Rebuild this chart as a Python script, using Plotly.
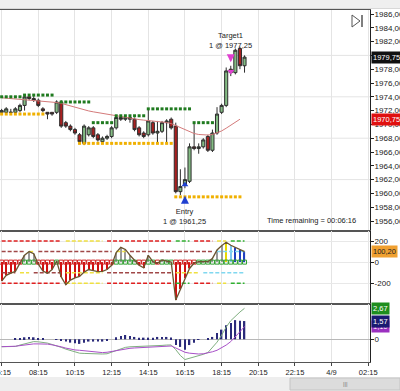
import pandas as pd
import plotly.graph_objects as go
from plotly.subplots import make_subplots

# ---------------- data ----------------
BAR_TIMES = pd.date_range("2014-04-08 06:15", periods=54, freq="15min")

OPEN = [1971.75, 1971.75, 1971.75, 1971.75, 1972.0, 1972.75, 1974.0, 1973.75, 1973.5, 1972.25,
        1971.75, 1971.75, 1971.75, 1973.25, 1970.25, 1969.75, 1969.25, 1968.5, 1967.25, 1968.5,
        1969.5, 1968.5, 1967.5, 1968.0, 1968.25, 1969.5, 1971.0, 1970.75, 1971.0, 1970.75,
        1969.5, 1968.75, 1968.5, 1970.25, 1968.75, 1969.0, 1970.25, 1970.75, 1969.75, 1960.25,
        1961.25, 1961.75, 1966.75, 1966.5, 1966.75, 1968.25, 1966.25, 1968.75, 1971.75, 1972.75,
        1978.0, 1977.5, 1981.0, 1978.5]
HIGH = [1972.25, 1972.5, 1972.25, 1972.5, 1973.0, 1974.25, 1974.25, 1974.25, 1973.75, 1972.5,
        1971.75, 1971.75, 1973.5, 1973.5, 1970.5, 1970.0, 1969.5, 1968.75, 1970.0, 1969.75,
        1969.75, 1968.75, 1968.25, 1968.5, 1969.75, 1971.25, 1971.25, 1971.25, 1971.25, 1971.0,
        1969.75, 1969.0, 1972.25, 1970.5, 1970.5, 1970.5, 1970.75, 1971.0, 1970.25, 1963.5,
        1963.75, 1967.25, 1970.25, 1967.25, 1968.0, 1968.5, 1969.25, 1972.5, 1973.0, 1978.25,
        1978.5, 1981.0, 1981.25, 1980.0]
LOW = [1971.5, 1971.5, 1971.5, 1971.5, 1971.75, 1972.0, 1973.5, 1973.25, 1972.5, 1971.75,
       1970.75, 1971.25, 1971.5, 1969.5, 1969.5, 1969.0, 1968.5, 1967.25, 1967.0, 1968.25,
       1968.0, 1967.5, 1967.25, 1967.75, 1968.0, 1969.25, 1970.5, 1970.5, 1970.25, 1969.0,
       1968.25, 1968.0, 1968.25, 1968.5, 1967.25, 1968.75, 1967.25, 1969.25, 1960.0, 1959.75,
       1960.75, 1961.5, 1966.25, 1965.75, 1966.5, 1966.0, 1966.0, 1968.5, 1971.5, 1972.5,
       1977.0, 1977.25, 1978.0, 1977.5]
CLOSE = [1972.0, 1972.25, 1971.75, 1972.25, 1972.75, 1974.0, 1973.75, 1973.5, 1972.75, 1972.0,
         1971.5, 1971.5, 1973.25, 1969.75, 1969.75, 1969.25, 1968.75, 1967.5, 1969.75, 1969.5,
         1968.25, 1967.75, 1968.0, 1968.25, 1969.5, 1971.0, 1970.75, 1971.0, 1970.75, 1969.25,
         1968.5, 1968.25, 1970.5, 1968.75, 1969.0, 1970.25, 1970.5, 1969.5, 1960.25, 1961.0,
         1962.0, 1966.75, 1966.5, 1966.75, 1967.75, 1966.25, 1968.75, 1971.5, 1972.75, 1977.75,
         1977.5, 1980.75, 1978.5, 1979.75]

MOVING_AVG = [1973.86, 1973.8, 1973.75, 1973.7, 1973.65, 1973.6, 1973.55, 1973.5, 1973.45, 1973.4,
              1973.3, 1973.25, 1973.17, 1973.05, 1972.85, 1972.67, 1972.5, 1972.3, 1972.1, 1971.95,
              1971.82, 1971.7, 1971.58, 1971.47, 1971.36, 1971.25, 1971.12, 1971.0, 1970.9, 1970.8,
              1970.7, 1970.62, 1970.56, 1970.5, 1970.43, 1970.36, 1970.28, 1970.12, 1969.84, 1969.52,
              1969.19, 1968.9, 1968.68, 1968.54, 1968.46, 1968.46, 1968.54, 1968.75, 1969.05, 1969.45,
              1969.9, 1970.35, 1970.75, None]

GREEN_LEVELS = [1974.0, 1974.25, 1973.25, 1970.25, 1971.25, 1972.25, 1970.25]
GREEN_FROM = [0, 5, 13, 20, 25, 32, 42]
GREEN_TO = [4, 11, 19, 24, 31, 41, 46]
YELLOW_LEVELS = [1971.5, 1967.25, 1959.5]
YELLOW_FROM = [0, 17, 38]
YELLOW_TO = [9, 37, 52]

ENTRY_BAR, ENTRY_PRICE = 40, 1961.25
TARGET_BAR, TARGET_PRICE = 50, 1977.25

CCI = [-180, -125, -105, -88, -10, 65, 100, 80, -20, -85,
       -105, -70, 10, -140, -215, -170, -150, -135, -95, -70,
       -80, -90, -88, -70, -30, 90, 140, 120, 65, 20,
       -30, -55, 65, 5, -10, 20, 10, 0, -360, -255,
       -150, -60, -10, 5, 5, 5, 35, 115, 155, 188,
       160, 140, 115, 100.2]
CCI_LEVELS = [200, 100, -100, -200]

MACD = [-0.64, -0.64, -0.64, -0.62, -0.5, -0.38, -0.28, -0.2, -0.22, -0.27,
        -0.33, -0.45, -0.55, -0.7, -0.85, -0.98, -1.1, -1.2, -1.22, -1.24,
        -1.25, -1.26, -1.27, -1.25, -1.1, -0.95, -0.82, -0.7, -0.65, -0.64,
        -0.64, -0.62, -0.6, -0.58, -0.56, -0.53, -0.5, -0.49, -0.9, -1.4,
        -1.75, -1.65, -1.52, -1.42, -1.3, -1.15, -0.7, -0.25, 0.35, 1.05,
        1.6, 2.0, 2.35, 2.67]
SIGNAL = [-0.64, -0.64, -0.63, -0.6, -0.55, -0.48, -0.42, -0.4, -0.4, -0.4,
          -0.42, -0.48, -0.55, -0.65, -0.76, -0.85, -0.92, -0.95, -1.0, -1.05,
          -1.08, -1.12, -1.15, -1.12, -1.05, -0.95, -0.88, -0.82, -0.78, -0.75,
          -0.72, -0.7, -0.67, -0.64, -0.62, -0.6, -0.58, -0.58, -0.75, -0.95,
          -1.12, -1.2, -1.25, -1.27, -1.25, -1.18, -1.08, -0.95, -0.75, -0.5,
          -0.2, 0.2, 0.65, 1.1]
MACD_HIST = [0, 0, 0, 0.05, 0.1, 0.17, 0.2, 0.17, 0.1, 0.03,
             0.0, 0.0, -0.05, -0.1, -0.2, -0.29, -0.35, -0.4, -0.3, -0.2,
             -0.2, -0.2, -0.2, -0.1, 0.0, 0.17, 0.29, 0.37, 0.29, 0.2,
             0.14, 0.14, 0.14, 0.14, 0.2, 0.2, 0.2, 0.15, -0.5, -0.66,
             -0.9, -0.5, -0.3, -0.06, 0.0, 0.1, 0.2, 0.55, 0.83, 1.2,
             1.4, 1.65, 1.6, 1.57]

TICK_TIMES = ["2014-04-08 06:15", "2014-04-08 08:15", "2014-04-08 10:15", "2014-04-08 12:15",
              "2014-04-08 14:15", "2014-04-08 16:15", "2014-04-08 18:15", "2014-04-08 20:15",
              "2014-04-08 22:15", "2014-04-09 00:15", "2014-04-09 02:15"]
TICK_TEXT = ["06:15", "08:15", "10:15", "12:15", "14:15", "16:15", "18:15", "20:15",
             "22:15", "4/9", "02:15"]
PRICE_TICKS = [1956, 1958, 1960, 1962, 1964, 1966, 1968, 1970, 1972, 1974, 1976, 1978,
               1980, 1982, 1984, 1986]
PRICE_GRID = [1962, 1968, 1974, 1980]

# ---------------- styles ----------------
FONT = "Liberation Sans"
RED, BROWN, YEL, GRN, CYAN = "#E02020", "#A04848", "#EFE040", "#30B030", "#80D8F0"
SEG_STYLE = {
    200: [(0, 13, RED), (14, 22, YEL), (23, 37, RED), (38, 41, GRN), (42, 46, RED), (47, 49, YEL), (50, 53, GRN)],
    100: [(0, 5, BROWN), (6, 7, YEL), (8, 24, BROWN), (25, 27, YEL), (28, 46, BROWN), (47, 53, CYAN)],
    -100: [(0, 3, BROWN), (4, 6, YEL), (7, 13, BROWN), (14, 22, YEL), (23, 37, BROWN), (38, 43, YEL), (44, 53, CYAN)],
    -200: [(0, 13, RED), (14, 22, YEL), (23, 37, RED), (38, 41, GRN), (42, 46, RED), (47, 49, YEL), (50, 53, GRN)],
}
POS_OVERRIDE = {49: "#E8D800", 50: "#7FC8F0", 51: "#2040C0", 52: "#2040C0", 53: "#2040C0"}

W, PLOT_W, TOP, BOTTOM = 400, 370, 10, 362
def px_x(px):
    return px / PLOT_W
def px_y(py):
    return (BOTTOM - py) / (BOTTOM - TOP)

t = list(BAR_TIMES)

fig = make_subplots(rows=3, cols=1, shared_xaxes=True, vertical_spacing=0,
                    row_heights=[221, 73, 58])

# main panel
fig.add_trace(go.Candlestick(
    x=t, open=OPEN, high=HIGH, low=LOW, close=CLOSE,
    increasing=dict(fillcolor="#84BC84", line=dict(color="#2E2E2E", width=1)),
    decreasing=dict(fillcolor="#A82020", line=dict(color="#2E2E2E", width=1)),
    whiskerwidth=0, showlegend=False, hoverinfo="skip"), row=1, col=1)

fig.add_trace(go.Scatter(x=t, y=MOVING_AVG, mode="lines",
                         line=dict(color="#D47A7A", width=1), hoverinfo="skip",
                         showlegend=False), row=1, col=1)

for lvl, a, b in zip(GREEN_LEVELS, GREEN_FROM, GREEN_TO):
    fig.add_trace(go.Scatter(x=t[a:b + 1], y=[lvl] * (b - a + 1), mode="markers",
                             marker=dict(symbol="square", size=3, color="#1F7A1F"),
                             hoverinfo="skip", showlegend=False), row=1, col=1)
for lvl, a, b in zip(YELLOW_LEVELS, YELLOW_FROM, YELLOW_TO):
    fig.add_trace(go.Scatter(x=t[a:b + 1], y=[lvl] * (b - a + 1), mode="markers",
                             marker=dict(symbol="square", size=3, color="#F0B000"),
                             hoverinfo="skip", showlegend=False), row=1, col=1)

fig.add_trace(go.Scatter(x=[t[ENTRY_BAR]], y=[ENTRY_PRICE], mode="markers",
                         marker=dict(symbol="triangle-up", size=6, color="#2040D0"),
                         hoverinfo="skip", showlegend=False), row=1, col=1)
fig.add_trace(go.Scatter(x=[t[TARGET_BAR]], y=[TARGET_PRICE + 0.4], mode="markers",
                         marker=dict(symbol="triangle-down", size=6, color="#E040D0"),
                         hoverinfo="skip", showlegend=False), row=1, col=1)

# CCI panel
for lvl in CCI_LEVELS:
    for a, b, c in SEG_STYLE[lvl]:
        fig.add_trace(go.Scatter(x=t[a:b + 1], y=[lvl] * (b - a + 1), mode="lines",
                                 line=dict(color=c, width=1.5, dash="4px,2px"),
                                 hoverinfo="skip", showlegend=False), row=2, col=1)
hist_colors = [("#D01010" if v < 0 else POS_OVERRIDE.get(i, "#9A9A9A")) for i, v in enumerate(CCI)]
fig.add_trace(go.Bar(x=t, y=CCI, width=230000, marker=dict(color=hist_colors, line=dict(width=0)),
                     hoverinfo="skip", showlegend=False), row=2, col=1)
fig.add_trace(go.Scatter(x=t, y=[0] * len(t), mode="markers",
                         marker=dict(symbol="square-open", size=4,
                                     color=["#2E9E2E" if v >= 0 else "#D02020" for v in CCI],
                                     line=dict(width=1)),
                         hoverinfo="skip", showlegend=False), row=2, col=1)
fig.add_trace(go.Scatter(x=t, y=CCI, mode="lines", line=dict(color="#6B5530", width=1.3),
                         hoverinfo="skip", showlegend=False), row=2, col=1)

# MACD panel
fig.add_trace(go.Bar(x=t, y=MACD_HIST, width=300000, marker=dict(color="#2A2A7A", line=dict(width=0)),
                     hoverinfo="skip", showlegend=False), row=3, col=1)
fig.add_trace(go.Scatter(x=t, y=MACD, mode="lines", line=dict(color="#7FAF7F", width=1),
                         hoverinfo="skip", showlegend=False), row=3, col=1)
fig.add_trace(go.Scatter(x=t, y=SIGNAL, mode="lines", line=dict(color="#A850C8", width=1),
                         hoverinfo="skip", showlegend=False), row=3, col=1)

# axes
x_range = ["2014-04-08 06:09:36", "2014-04-09 02:20:45"]
fig.update_xaxes(range=x_range, tickvals=TICK_TIMES, ticktext=TICK_TEXT,
                 showgrid=True, gridcolor="#E4E4E4", gridwidth=1,
                 showline=True, mirror=True, linecolor="#555555", linewidth=1,
                 rangeslider_visible=False, zeroline=False, ticklabeloverflow="allow",
                 automargin=False,
                 tickfont=dict(family=FONT, size=7.5, color="#222222"))
fig.update_xaxes(ticks="outside", ticklen=3, tickcolor="#444444", row=3, col=1)

yax = dict(side="right", showline=True, linecolor="#222222", linewidth=1,
           ticks="outside", ticklen=3, tickcolor="#222222", zeroline=False,
           ticklabelstandoff=-1, ticklabeloverflow="allow", automargin=False,
           tickfont=dict(family=FONT, size=8, color="#222222"))
fig.update_yaxes(**yax)
fig.update_yaxes(range=[1954.55, 1986.58], tickvals=PRICE_TICKS,
                 ticktext=[f"{v:.2f}".replace(".", ",") for v in PRICE_TICKS],
                 showgrid=False, row=1, col=1)
fig.update_yaxes(range=[-397, 295], tickvals=[-200, 0, 200], ticktext=["-200", "0", "200"],
                 showgrid=True, gridcolor="#E8E8E8", row=2, col=1)
fig.update_yaxes(range=[-1.96, 3.04], tickvals=[0], ticktext=["0"],
                 showgrid=True, gridcolor="#B8B8B8", row=3, col=1)

shapes = []
for g in PRICE_GRID:
    shapes.append(dict(type="line", xref="paper", x0=0, x1=1, yref="y", y0=g, y1=g,
                       line=dict(color="#E4E4E4", width=1), layer="below"))
# toolbar at top
shapes.append(dict(type="rect", xref="paper", yref="paper", x0=0, x1=px_x(W), y0=px_y(8), y1=px_y(-2),
                   fillcolor="#EFEFEF", line=dict(width=0)))
shapes.append(dict(type="line", xref="paper", yref="paper", x0=0, x1=px_x(W), y0=px_y(8.5), y1=px_y(8.5),
                   line=dict(color="#D8D8D8", width=1)))
# scroll-to-end icon
shapes.append(dict(type="path", xref="paper", yref="paper",
                   path=f"M {px_x(352)} {px_y(15)} L {px_x(352)} {px_y(27)} L {px_x(360)} {px_y(21)} Z",
                   line=dict(color="#555555", width=1), fillcolor="white"))
shapes.append(dict(type="line", xref="paper", yref="paper", x0=px_x(362), x1=px_x(362),
                   y0=px_y(15), y1=px_y(27), line=dict(color="#555555", width=1.5)))
# scrollbar
shapes.append(dict(type="rect", xref="paper", yref="paper", x0=0, x1=px_x(W), y0=px_y(391), y1=px_y(377),
                   fillcolor="#EEEEEE", line=dict(width=0)))
shapes.append(dict(type="rect", xref="paper", yref="paper", x0=px_x(290), x1=px_x(W), y0=px_y(390), y1=px_y(378),
                   fillcolor="#DCDCDC", line=dict(color="#C4C4C4", width=1)))

ann = []
def tag(yref, val, bg, fg):
    return dict(xref="paper", x=1, xanchor="left", xshift=1, yref=yref, y=val, yanchor="middle",
                text=f"{val:.2f}".replace(".", ","), showarrow=False, bgcolor=bg,
                font=dict(family=FONT, size=7.5, color=fg), borderpad=1)
ann.append(tag("y", CLOSE[-1], "#111111", "white"))
ann.append(tag("y", MOVING_AVG[-2], "#E01010", "white"))
ann.append(tag("y2", CCI[-1], "#F0A030", "#222222"))
ann.append(tag("y3", SIGNAL[-1], "#9B30C0", "white"))
ann.append(tag("y3", MACD_HIST[-1], "#1A1A70", "white"))
ann.append(tag("y3", MACD[-1], "#1E8E1E", "white"))

ann.append(dict(x=t[ENTRY_BAR], y=ENTRY_PRICE, xref="x", yref="y", text="", showarrow=True,
                arrowhead=2, arrowsize=0.8, arrowwidth=2, arrowcolor="#2040D0", ax=0, ay=8, yshift=-11))
ann.append(dict(x=t[TARGET_BAR], y=TARGET_PRICE, xref="x", yref="y", text="", showarrow=True,
                arrowhead=2, arrowsize=0.8, arrowwidth=2, arrowcolor="#E040D0", ax=0, ay=-8, yshift=12))
ann.append(dict(x=t[ENTRY_BAR], y=ENTRY_PRICE, xref="x", yref="y", yanchor="top", yshift=-20,
                text="Entry<br>1 @ " + f"{ENTRY_PRICE:.2f}".replace(".", ","), showarrow=False,
                font=dict(family=FONT, size=7.5, color="#222222")))
ann.append(dict(x=t[TARGET_BAR], y=TARGET_PRICE, xref="x", yref="y", yanchor="bottom", yshift=22,
                text="Target1<br>1 @ " + f"{TARGET_PRICE:.2f}".replace(".", ","), showarrow=False,
                font=dict(family=FONT, size=7.5, color="#222222")))
ann.append(dict(xref="paper", yref="paper", x=px_x(311), y=px_y(220), xanchor="center", yanchor="middle",
                text="Time remaining = 00:06:16", showarrow=False,
                font=dict(family=FONT, size=7.5, color="#222222")))
ann.append(dict(xref="paper", yref="paper", x=px_x(345), y=px_y(384), xanchor="center", yanchor="middle",
                text="|||", showarrow=False, font=dict(family=FONT, size=6, color="#777777")))

fig.update_layout(
    width=W, height=391,
    margin=dict(l=0, r=W - PLOT_W, t=TOP, b=391 - BOTTOM, autoexpand=False),
    paper_bgcolor="white", plot_bgcolor="white",
    showlegend=False, hovermode=False, barmode="overlay",
    boxgap=0.25, boxgroupgap=0.1,
    shapes=shapes, annotations=ann,
    font=dict(family=FONT, size=8, color="#222222"),
)

fig.write_html("out.html", config={"displayModeBar": False},
               post_script="document.body.style.margin='0';document.body.style.overflow='hidden';")
